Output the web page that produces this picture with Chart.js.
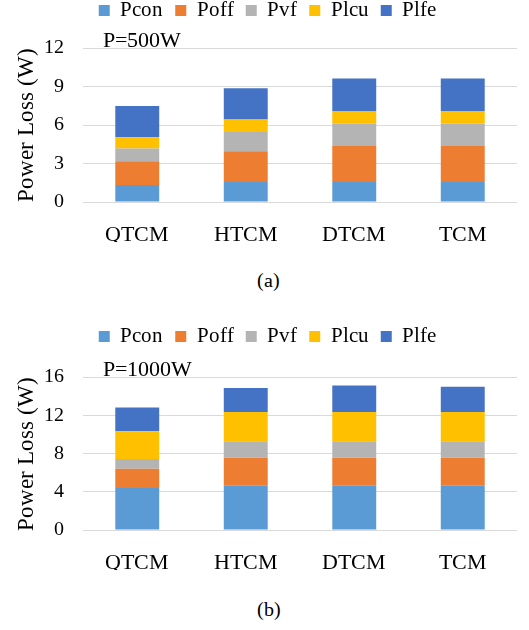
<!DOCTYPE html>
<html>
<head>
<meta charset="utf-8">
<script src="https://cdn.jsdelivr.net/npm/chart.js@4/dist/chart.umd.min.js"></script>
<style>
  @font-face { font-family: 'FigSerif'; src: local('Liberation Serif'), local('LiberationSerif'), local('Liberation Serif Regular'); }
  body { margin: 0; background: #fff; width: 529px; height: 630px; position: relative; overflow: hidden; }
  .box { position: absolute; left: 0; }
  .cap { position: absolute; width: 529px; left: 4px; text-align: center; font: 20px FigSerif, "Liberation Serif", serif; color: #000; }
</style>
</head>
<body>
<div class="box" style="top:-12px"><canvas id="chartA" width="529" height="254"></canvas></div>
<div class="cap" style="top:269px">(a)</div>
<div class="box" style="top:314px"><canvas id="chartB" width="529" height="256"></canvas></div>
<div class="cap" style="top:598px">(b)</div>
<script>
const categories = ['QTCM', 'HTCM', 'DTCM', 'TCM'];
const seriesNames = ['Pcon', 'Poff', 'Pvf', 'Plcu', 'Plfe'];
const seriesColors = ['#5B9BD5', '#ED7D31', '#B4B4B4', '#FFC000', '#4472C4'];

// P = 500W
const pcon500 = [1.32, 1.55, 1.55, 1.55];
const poff500 = [1.85, 2.40, 2.81, 2.81];
const pvf500  = [0.99, 1.50, 1.75, 1.75];
const plcu500 = [0.89, 0.97, 0.98, 0.98];
const plfe500 = [2.43, 2.45, 2.53, 2.53];
const ticks500 = [0, 3, 6, 9, 12];

// P = 1000W
const pcon1000 = [4.38, 4.64, 4.64, 4.64];
const poff1000 = [2.03, 2.91, 2.91, 2.91];
const pvf1000  = [1.01, 1.74, 1.74, 1.74];
const plcu1000 = [2.90, 3.05, 3.05, 3.05];
const plfe1000 = [2.50, 2.50, 2.78, 2.65];
const ticks1000 = [0, 4, 8, 12, 16];

const SERIF = 'FigSerif, "Liberation Serif", serif';
Chart.defaults.font.family = SERIF;
Chart.defaults.font.size = 21;
Chart.defaults.color = '#000';

/* legend height fixed so the plot area lands where it should */
function legendBox(h, dx) {
    return {
        id: 'legendBox',
        beforeInit(chart) {
            const fit = chart.legend.fit;
            chart.legend.fit = function () { fit.call(this); this.height = h; };
        },
        afterLayout(chart) {
            chart.legend.left += dx;
            chart.legend.right += dx;
        }
    };
}

function noteLabel(text) {
    return {
        id: 'noteLabel',
        afterDraw(chart) {
            const { ctx, chartArea } = chart;
            ctx.save();
            ctx.font = '22px ' + SERIF;
            ctx.fillStyle = '#000';
            ctx.textBaseline = 'alphabetic';
            ctx.fillText(text, chartArea.left + 20, chartArea.top - 1);
            ctx.restore();
        }
    };
}

function makeChart(id, values, ticks, note, legendH) {
    const datasets = values.map((v, i) => ({
        label: seriesNames[i],
        data: v,
        backgroundColor: seriesColors[i],
        borderWidth: 0,
        categoryPercentage: 1,
        barPercentage: 0.405
    }));

    return new Chart(document.getElementById(id), {
        type: 'bar',
        data: { labels: categories, datasets },
        options: {
            responsive: false,
            animation: false,
            events: [],
            layout: { padding: { left: 0, right: 12, top: 0, bottom: 0 } },
            plugins: {
                legend: {
                    position: 'top',
                    labels: { boxWidth: 11, boxHeight: 11, padding: 12, font: { family: SERIF, size: 21 } }
                },
                tooltip: { enabled: false }
            },
            scales: {
                x: {
                    stacked: true,
                    grid: { display: false },
                    border: { display: false },
                    ticks: { padding: 12, font: { family: SERIF, size: 22 } },
                    afterFit(scale) { scale.height = 40; }
                },
                y: {
                    stacked: true,
                    min: ticks[0],
                    max: ticks[ticks.length - 1],
                    afterBuildTicks(scale) { scale.ticks = ticks.map(v => ({ value: v })); },
                    grid: { color: '#D9D9D9', lineWidth: 1, drawTicks: false },
                    border: { display: false },
                    ticks: { padding: 19, font: { family: SERIF, size: 20 } },
                    title: {
                        display: true,
                        text: 'Power Loss (W)',
                        font: { family: SERIF, size: 23 },
                        padding: { top: 13, bottom: 0 }
                    },
                    afterFit(scale) { scale.width = 83; }
                }
            }
        },
        plugins: [legendBox(legendH, 9), noteLabel(note)]
    });
}

function drawAll() {
    makeChart('chartA', [pcon500, poff500, pvf500, plcu500, plfe500], ticks500, 'P=500W', 60);
    makeChart('chartB', [pcon1000, poff1000, pvf1000, plcu1000, plfe1000], ticks1000, 'P=1000W', 63);
}

// load the local serif face for the canvas first; draw anyway if that fails
Promise.all([
    document.fonts.load('20px FigSerif'),
    document.fonts.load('21px FigSerif'),
    document.fonts.load('22px FigSerif')
]).then(drawAll, drawAll);
</script>
</body>
</html>
